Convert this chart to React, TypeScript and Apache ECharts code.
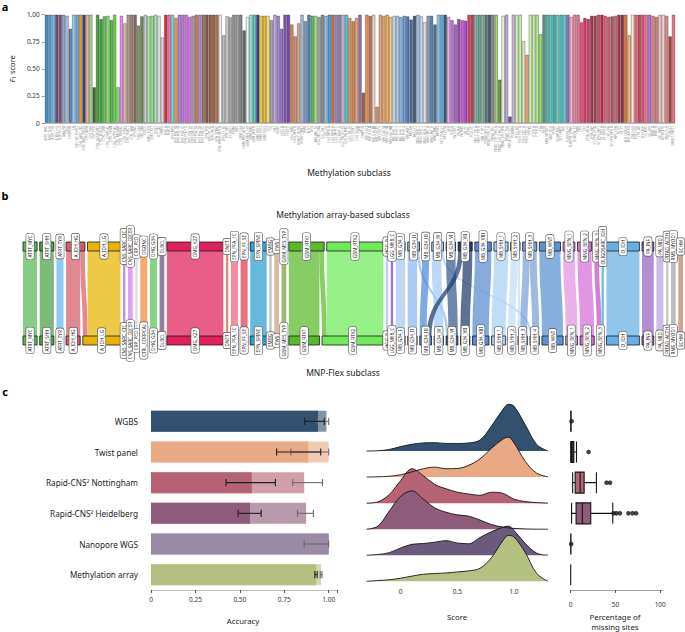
import React, { useEffect, useRef } from 'react';
import * as echarts from 'echarts';

const FONT = '"Noto Sans", "Open Sans", sans-serif';

// ---------------- Panel a ----------------
const subclassLabels = [
  'ATRT_MYC', 'ATRT_SHH', 'ATRT_TYR', 'A_IDH_HG', 'A_IDH_LG', 'ANA_PA', 'CHGL', 'CHORDM', 'CN', 'CNS_NB_FOXR2',
  'CNS_SARC_CIC', 'CNS_SARC_DICER', 'CPH_ADM', 'CPH_PAP', 'CRP_PED', 'CTRL_ADENOPIT', 'CTRL_BLOOD', 'CTRL_CBM', 'CTRL_CORPCAL', 'CTRL_HEMI',
  'CTRL_HYPTHAL', 'CTRL_INFLAM', 'CTRL_PINEAL', 'CTRL_PONS', 'CTRL_REACT', 'CTRL_WM', 'DGONC', 'DHG_G34', 'DIG_DIA', 'DLBCL',
  'DMG_EGFR', 'DMG_K27', 'DNET', 'EFT_CIC', 'EMBG', 'ENB_A', 'ENB_B', 'EPN_MPE', 'EPN_PFA_1A', 'EPN_PFA_1B',
  'EPN_PFA_1C', 'EPN_PFA_1D', 'EPN_PFA_1E', 'EPN_PFA_1F', 'EPN_PFA_2A', 'EPN_PFA_2B', 'EPN_PFA_2C', 'EPN_PFB', 'EPN_PF_SE', 'EPN_RELA',
  'EPN_SPINE', 'EPN_SPINE_MYCN', 'EPN_ST_SE', 'EPN_YAP', 'ET_BRDT', 'ETMR', 'EWS', 'GBM_G34', 'GBM_MES_ATYP', 'GBM_MES_TYP',
  'GBM_MID', 'GBM_MYCN', 'GBM_RTK1', 'GBM_RTK2', 'GBM_RTK3', 'GCT', 'GG', 'GNT', 'HGAP', 'HGG_A',
  'HGG_B', 'HGG_E', 'HGG_MID', 'HGG_MYCN', 'HGNET_BCOR', 'HGNET_MN1', 'HMB', 'ICHT', 'IHG', 'INFLAM_TU',
  'LGG_DIG_DIA', 'LGG_DNT', 'LGG_GG', 'LGG_MYB_A', 'LGG_MYB_B', 'LGG_MYB_C', 'LGG_MYB_D', 'LGG_PA_GG_ST', 'LGG_PA_MID', 'LGG_PA_PF',
  'LGG_RGNT', 'LGG_SEGA', 'LIPN', 'LYMPHO', 'MB_G34_I', 'MB_G34_II', 'MB_G34_III', 'MB_G34_IV', 'MB_G34_V', 'MB_G34_VI',
  'MB_G34_VII', 'MB_G34_VIII', 'MB_SHH_1', 'MB_SHH_2', 'MB_SHH_3', 'MB_SHH_4', 'MB_WNT', 'MELAN', 'MELCYT', 'MNG_BEN_1',
  'MNG_BEN_2', 'MNG_BEN_3', 'MNG_INT_A', 'MNG_INT_B', 'MNG_MAL', 'MPNST', 'NET_PLAGL1', 'NET_ZFTA', 'NFB', 'O_IDH',
  'PA_CORT', 'PA_INF', 'PA_MID', 'PA_PF', 'PCNSL', 'PGG_nC', 'PIN_T_PB_A', 'PIN_T_PB_B', 'PIN_T_PPT', 'PITAD_ACTH',
  'PITAD_FSH_LH', 'PITAD_PRL', 'PITAD_STH_DNS_A', 'PITAD_STH_DNS_B', 'PITAD_STH_SPA', 'PITAD_TSH', 'PITUI_SCO_GCT', 'PLASMA', 'PLEX_AD', 'PLEX_PED_A',
  'PLEX_PED_B', 'PLEX_PED_C', 'PPTID', 'PTPR_A', 'PTPR_B', 'PXA', 'RETB', 'RMS_MYOD1', 'SARC_IDH', 'SCHW',
  'SCHW_MEL', 'SFT_HMPC', 'SPC', 'SUBEPN_PF', 'SUBEPN_SPINE', 'SUBEPN_ST', 'TEMB', 'UPS', 'YST', 'ZFTA_RELA',
  'ZFTA_YAP', 'ST_EPN_ZFTA', 'ST_EPN_YAP1', 'PF_EPN_A', 'PF_EPN_B', 'SP_EPN', 'SP_EPN_MYCN', 'MPE_EPN', 'SE_PF', 'SE_ST',
  'IDH_OLIGO', 'IDH_ASTRO', 'PFA_HGG', 'PFB_HGG', 'CHL_AD', 'SHH_INF', 'G3_MYC', 'G4_GRP', 'WNT_A', 'WNT_B',
  'CIC_SARC', 'BCOR_ITD', 'MN1_FUS', 'PLAGL2', 'EWSR1_PATZ1',
];

const f1Scores = [
  1, 1, 1, 1, 1, 1, 0.99, 0.87, 1, 1,
  1, 1, 1, 1, 0.33, 1, 0.96, 0.985, 0.99, 0.95,
  1, 0.33, 0.99, 0.92, 1, 1, 1, 0.9, 0.985, 1,
  0.985, 0.99, 1, 0.99, 0.79, 1, 1, 1, 0.97, 1,
  1, 1, 0.98, 0.99, 1, 1, 1, 1, 1, 1,
  1, 1, 0.81, 0.985, 0.975, 1, 1, 1, 0.855, 0.98,
  1, 1, 1, 0.99, 0.99, 0.99, 0.95, 1, 0.99, 0.87,
  1, 1, 0.91, 0.8, 0.92, 1, 0.94, 1, 0.99, 0.99,
  0.98, 1, 0.99, 1, 1, 1, 1, 1, 1, 0.97,
  0.94, 0.97, 1, 0.28, 1, 0.99, 1, 0.15, 1, 0.99,
  1, 0.98, 0.99, 0.99, 0.98, 0.99, 0.985, 0.955, 0.99, 1,
  0.985, 0.93, 0.99, 0.99, 0.91, 1, 1, 1, 0.98, 0.95,
  0.91, 0.96, 0.95, 0.945, 1, 1, 1, 1, 1, 1,
  1, 1, 1, 0.4, 0.99, 1, 0.06, 1, 1, 1,
  0.755, 0.63, 1, 1, 1, 0.82, 1, 1, 1, 1,
  1, 1, 1, 1, 0.98, 1, 1, 0.93, 0.97, 0.96,
  0.99, 0.99, 1, 1, 0.99, 0.98, 0.985, 0.99, 1, 1,
  1, 0.81, 1, 1, 1, 1, 1, 1, 0.99, 0.98,
  1, 1, 0.99, 0.8, 1,
];

const barColors = [
  '#3b8fc4', '#4f9ed0', '#74bdea', '#6b4f7a', '#7d5384', '#8ea6c8', '#a9bedb', '#5f7fb2', '#8fcbf2', '#6aa6de',
  '#f0943a', '#354a6a', '#f3aaa2', '#9ada8c', '#3f6e3b', '#4aa043', '#36a736', '#5cc852', '#8ade72', '#52b944',
  '#62d84a', '#82e272', '#f282f2', '#d6baa8', '#b99585', '#a18272', '#8b6b5d', '#7f9a69', '#6b8b59', '#c3cada',
  '#aae892', '#92e192', '#a2e8b2', '#e2e2ea', '#d9d9d9', '#e8283c', '#f274aa', '#6ad8e0', '#f09252', '#b282d8',
  '#c272e0', '#d274e8', '#e072f0', '#aa92b8', '#c98242', '#b282e0', '#a27262', '#8b5b49', '#925c42', '#a26242',
  '#b27252', '#f0f0f0', '#b9b9b9', '#c9c9c9', '#a9a9a9', '#929292', '#a2a2a2', '#828282', '#6a6a6a', '#f1f1f1',
  '#92e0d8', '#52c8c0', '#3c428a', '#f0d042', '#e8c022', '#f8e072', '#a2a2a2', '#c2a2e8', '#a282d8', '#9272c8',
  '#8252b8', '#7249a8', '#d88252', '#d09272', '#e0a282', '#a2bae0', '#7a9ac8', '#5282b8', '#52c052', '#a2e082',
  '#a2a2a2', '#8a8a8a', '#82c2e8', '#42a2e0', '#c27252', '#a282c2', '#9282a2', '#c2b2d8', '#52c8d0', '#e09262',
  '#d88252', '#e8a272', '#9272b2', '#a26242', '#f09252', '#c8724a', '#f2d2c2', '#d09272', '#e2a282', '#f0a262',
  '#f2b252', '#f8c282', '#c2daf2', '#aacaf2', '#8ab2e2', '#6a9ad8', '#4a7ac2', '#526a92', '#425a7a', '#a2c2ea',
  '#c2daf8', '#dae2f2', '#9a9aa2', '#5282c2', '#527292', '#92c2ea', '#52b2ea', '#3a5a72', '#e2aaea', '#c272da',
  '#b262ca', '#9252a2', '#d252ea', '#b242d2', '#d24262', '#c23a52', '#72b2a2', '#62a292', '#82b29a', '#527a7a',
  '#425a6a', '#8a8a8a', '#a2d272', '#729242', '#e2f8d2', '#c2a2e2', '#7252a2', '#cab2e2', '#d2f2b2', '#c2f2a2',
  '#dae8c2', '#f2a272', '#d2f2b2', '#c2f2a2', '#b2ea92', '#92e262', '#5a9288', '#52bab2', '#4acac2', '#3ab2aa',
  '#62d2ca', '#42c2ba', '#5ad2d2', '#926ac2', '#f2b2ca', '#f282a2', '#f26a92', '#f24a7a', '#e23262', '#d24272',
  '#b23252', '#a24252', '#c2526a', '#d22242', '#e26282', '#ca6272', '#ba5262', '#ca6a7a', '#a23a4a', '#923242',
  '#e27232', '#f8b282', '#f8eaca', '#f26282', '#d24262', '#e25272', '#f27292', '#b272e2', '#ea8282', '#d28282',
  '#f2c2c2', '#f8d2d2', '#e28a8a', '#b24242', '#f27282',
];

// ---------------- Panel b ----------------
const topNodes = [
  'ATRT_MYC', 'ATRT_SHH', 'ATRT_TYR', 'A_IDH_HG', 'A_IDH_LG', 'CNS_SARC_CIC', 'CNS_SARC_DICER', 'CRP_PED', 'DGONC', 'DHG_G34',
  'DLBCL', 'DMG_K27', 'DNET', 'EPN_PFA_1C', 'EPN_PF_SE', 'EPN_SPINE', 'EMBG', 'EWS', 'GBM_MES_TYP', 'GBM_RTK1',
  'GBM_RTK2', 'HGG_B', 'LGG_MYB_C', 'MB_G34_I', 'MB_G34_II', 'MB_G34_III', 'MB_G34_IV', 'MB_G34_VI', 'MB_G34_VII', 'MB_G34_VIII',
  'MB_SHH_1', 'MB_SHH_2', 'MB_SHH_3', 'MB_WNT', 'MNG_BEN_1', 'MNG_BEN_2', 'MNG_BEN_3', 'OLIGOSARC_IDH', 'O_IDH', 'PA_INF',
  'PA_MID', 'PITAD_ACTH', 'RMS_MYOD1', 'SCHW',
];
const bottomNodes = [
  'ATRT_MYC', 'ATRT_SHH', 'ATRT_TYR', 'A_IDH_HG', 'A_IDH_LG', 'CNS_SARC_CIC', 'CNS_SARC_DICER', 'CRP_PED', 'CTRL_CORPCAL', 'DHG_G34',
  'DLBCL', 'DMG_K27', 'DNET', 'EPN_PFA_1C', 'EPN_PF_SE', 'EPN_SPINE', 'EMBG', 'EWS', 'GBM_MES_TYP', 'GBM_RTK1',
  'GBM_RTK2', 'HGG_B', 'LGG_MYB_C', 'MB_G34_I', 'MB_G34_II', 'MB_G34_III', 'MB_G34_IV', 'MB_G34_VI', 'MB_G34_VII', 'MB_G34_VIII',
  'MB_SHH_1', 'MB_SHH_2', 'MB_SHH_3', 'MB_SHH_4', 'MB_WNT', 'MNG_BEN_1', 'MNG_BEN_2', 'MNG_BEN_3', 'O_IDH', 'PA_INF',
  'PA_MID', 'PITAD_ACTH', 'RMS_MYOD1', 'SCHW',
];
const sankeyLinks: [string, string, number][] = [
  ['ATRT_MYC', 'ATRT_MYC', 6], ['ATRT_SHH', 'ATRT_SHH', 6], ['ATRT_TYR', 'ATRT_TYR', 3],
  ['A_IDH_HG', 'A_IDH_HG', 6], ['A_IDH_HG', 'A_IDH_LG', 2], ['A_IDH_LG', 'A_IDH_LG', 14],
  ['CNS_SARC_CIC', 'CNS_SARC_CIC', 1], ['CNS_SARC_DICER', 'CNS_SARC_DICER', 2], ['CRP_PED', 'CRP_PED', 1],
  ['DGONC', 'CTRL_CORPCAL', 3], ['DHG_G34', 'DHG_G34', 3], ['DLBCL', 'DLBCL', 2], ['DMG_K27', 'DMG_K27', 24],
  ['DNET', 'DNET', 1], ['EPN_PFA_1C', 'EPN_PFA_1C', 3], ['EPN_PF_SE', 'EPN_PF_SE', 3], ['EPN_SPINE', 'EPN_SPINE', 7],
  ['EMBG', 'EMBG', 1], ['EWS', 'EWS', 2], ['GBM_MES_TYP', 'GBM_MES_TYP', 2],
  ['GBM_RTK1', 'GBM_RTK1', 13], ['GBM_RTK1', 'GBM_RTK2', 2], ['GBM_RTK2', 'GBM_RTK2', 24],
  ['HGG_B', 'HGG_B', 1], ['LGG_MYB_C', 'LGG_MYB_C', 1], ['MB_G34_I', 'MB_G34_I', 4],
  ['MB_G34_II', 'MB_G34_II', 4], ['MB_G34_II', 'MB_G34_VI', 1], ['MB_G34_III', 'MB_G34_III', 3],
  ['MB_G34_IV', 'MB_G34_IV', 4], ['MB_G34_IV', 'MB_SHH_4', 1], ['MB_G34_VI', 'MB_G34_VI', 4],
  ['MB_G34_VII', 'MB_G34_III', 2], ['MB_G34_VII', 'MB_G34_VII', 4], ['MB_G34_VIII', 'MB_G34_VIII', 7],
  ['MB_SHH_1', 'MB_SHH_1', 6], ['MB_SHH_2', 'MB_SHH_2', 3], ['MB_SHH_2', 'MB_SHH_3', 1],
  ['MB_SHH_3', 'MB_SHH_3', 3], ['MB_SHH_3', 'MB_SHH_4', 3], ['MB_WNT', 'MB_WNT', 9],
  ['MNG_BEN_1', 'MNG_BEN_1', 5], ['MNG_BEN_2', 'MNG_BEN_2', 6], ['MNG_BEN_3', 'MNG_BEN_3', 2],
  ['OLIGOSARC_IDH', 'MNG_BEN_3', 1], ['O_IDH', 'O_IDH', 14], ['PA_INF', 'PA_INF', 5], ['PA_MID', 'PA_MID', 3],
  ['PITAD_ACTH', 'PITAD_ACTH', 1], ['RMS_MYOD1', 'RMS_MYOD1', 2], ['SCHW', 'SCHW', 2],
];
const nodeColors: Record<string, string> = {
  ATRT_MYC: '#5cb557', ATRT_SHH: '#4aa047', ATRT_TYR: '#5fb8ee', A_IDH_HG: '#d65a6a', A_IDH_LG: '#e8b400',
  CNS_SARC_CIC: '#a866c4', CNS_SARC_DICER: '#cf7cf0', CRP_PED: '#cfcfcf', DGONC: '#f08a3a', CTRL_CORPCAL: '#f08a3a',
  DHG_G34: '#5cc25c', DLBCL: '#6a4f72', DMG_K27: '#e0205a', DNET: '#c8682e', EPN_PFA_1C: '#f0607a',
  EPN_PF_SE: '#e03a52', EPN_SPINE: '#2a9ed0', EMBG: '#a8a8a8', EWS: '#c2a27e', GBM_MES_TYP: '#7a9a3c',
  GBM_RTK1: '#5ab82a', GBM_RTK2: '#70ea5a', HGG_B: '#9cbce6', LGG_MYB_C: '#8040c0', MB_G34_I: '#a8c8f0',
  MB_G34_II: '#8cb6ee', MB_G34_III: '#4f88de', MB_G34_IV: '#a2c8f6', MB_G34_VI: '#36598c', MB_G34_VII: '#1e3a70',
  MB_G34_VIII: '#5a8ad2', MB_SHH_1: '#a6cef6', MB_SHH_2: '#c0dcfa', MB_SHH_3: '#7c9ed8', MB_SHH_4: '#b0cef6',
  MB_WNT: '#5a92d2', MNG_BEN_1: '#e292e2', MNG_BEN_2: '#d46ed4', MNG_BEN_3: '#c24ec8', OLIGOSARC_IDH: '#2ab0c2',
  O_IDH: '#68aee2', PA_INF: '#9462c2', PA_MID: '#baa2e2', PITAD_ACTH: '#b2b4a2', RMS_MYOD1: '#a2a2a2', SCHW: '#c08060',
};

// ---------------- Panel c ----------------
const platforms = ['WGBS', 'Twist panel', 'Rapid-CNS² Nottingham', 'Rapid-CNS² Heidelberg', 'Nanopore WGS', 'Methylation array'];
const accSubclass = [0.94, 0.885, 0.567, 0.557, 1.0, 0.929];
const accFamily = [0.987, 1.0, 0.862, 0.873, 1.0, 0.957];
const errSubLow = [0.865, 0.707, 0.422, 0.49, null, 0.922];
const errSubHigh = [0.975, 0.955, 0.7, 0.62, null, 0.935];
const errFamLow = [0.935, 0.787, 0.798, 0.824, 0.862, 0.952];
const errFamHigh = [1.0, 1.0, 0.965, 0.914, 1.0, 0.962];
const platformColors = ['#34506f', '#e9a985', '#b56374', '#8e5c7a', '#9a8aa4', '#b3c07f'];
const ridgeColors = ['#34506f', '#eaa985', '#b56374', '#8e5c7a', '#6b5a7c', '#b3c07f'];

const ridgeX = [-0.3, -0.2, -0.1, 0, 0.1, 0.2, 0.3, 0.4, 0.5, 0.6, 0.7, 0.8, 0.9, 0.95, 1.0, 1.1, 1.2, 1.3];
const ridgeDensity = [
  [0, 0.01, 0.06, 0.17, 0.26, 0.31, 0.32, 0.29, 0.29, 0.31, 0.42, 0.95, 1.58, 1.79, 1.72, 1.0, 0.25, 0],
  [0, 0.01, 0.03, 0.09, 0.2, 0.32, 0.38, 0.32, 0.33, 0.45, 0.7, 1.1, 1.45, 1.53, 1.31, 0.6, 0.15, 0.01],
  [0, 0.05, 0.33, 0.87, 1.32, 1.05, 0.72, 0.55, 0.42, 0.35, 0.3, 0.42, 0.38, 0.27, 0.15, 0.06, 0.02, 0],
  [0, 0.12, 0.7, 1.26, 1.47, 1.15, 0.82, 0.65, 0.55, 0.5, 0.35, 0.18, 0.08, 0.05, 0.03, 0.01, 0, 0],
  [0, 0.03, 0.1, 0.28, 0.42, 0.45, 0.5, 0.56, 0.47, 0.44, 0.68, 0.9, 1.07, 1.12, 0.95, 0.45, 0.08, 0],
  [0, 0.03, 0.06, 0.12, 0.2, 0.27, 0.3, 0.32, 0.36, 0.4, 0.5, 0.9, 1.55, 1.76, 1.7, 1.1, 0.3, 0],
];

const missingBox = [
  [0, 0, 0, 0, 0.5],
  [0, 0.5, 1, 3.5, 6.5],
  [2.2, 5, 10.5, 15, 28.7],
  [1, 6, 13, 22.4, 47],
  [0, 0, 0, 0, 0.3],
  [0, 0, 0, 0, 0],
];
const missingOutliers = [
  [1, 0], [20, 1], [40, 2], [44, 2], [48, 3], [51, 3], [55, 3], [64.5, 3], [69, 3], [73, 3], [0.5, 4],
];
const boxFills = ['#34506f', '#3b2a22', '#b56374', '#8e5c7a', '#6b5a7c', '#b3c07f'];

function txt(text: string, x: number, y: number, size: number, opts: any = {}) {
  return {
    type: 'text',
    x, y,
    silent: true,
    style: {
      text, x: 0, y: 0,
      fill: opts.fill || '#222',
      font: `${opts.weight || 'normal'} ${size}px ${FONT}`,
      textAlign: opts.align || 'center', align: opts.align || 'center',
      textVerticalAlign: 'middle', verticalAlign: 'middle',
    },
  };
}

function buildOption() {
  const series: any[] = [];

  // a
  series.push({
    type: 'bar', xAxisIndex: 0, yAxisIndex: 0,
    barCategoryGap: '3%',
    data: f1Scores.map((v, i) => ({ value: v, itemStyle: { color: barColors[i] } })),
    itemStyle: { borderColor: 'rgba(30,30,30,0.55)', borderWidth: 0.6 },
    silent: true,
  });

  // b
  series.push({
    type: 'sankey',
    orient: 'vertical',
    left: 23, right: 2, top: 242, bottom: 632 - 345,
    nodeWidth: 9, nodeGap: 2.6,
    layoutIterations: 0,
    draggable: false,
    emphasis: { disabled: true },
    silent: true,
    data: [
      ...topNodes.map((n) => ({ name: 't_' + n, itemStyle: { color: nodeColors[n] } })),
      ...bottomNodes.map((n) => ({ name: 'b_' + n, itemStyle: { color: nodeColors[n] } })),
    ],
    links: sankeyLinks.map(([s, t, v]) => ({ source: 't_' + s, target: 'b_' + t, value: v })),
    itemStyle: { borderColor: '#1a1a1a', borderWidth: 0.8 },
    lineStyle: { color: 'source', opacity: 0.72, curveness: 0.5 },
    label: {
      show: true, position: 'inside', rotate: 90,
      formatter: (p: any) => p.name.slice(2),
      fontSize: 4.6, color: '#222', fontFamily: FONT,
      backgroundColor: '#fff', borderColor: '#555', borderWidth: 0.6, borderRadius: 1.8,
      padding: [1.6, 1.8, 1.0, 1.8],
    },
  });

  // c1 bars
  series.push({
    type: 'bar', xAxisIndex: 1, yAxisIndex: 1, barWidth: 21, barGap: '-100%',
    data: accFamily.map((v, i) => ({ value: v, itemStyle: { color: platformColors[i], opacity: 0.62 } })),
    silent: true,
  });
  series.push({
    type: 'bar', xAxisIndex: 1, yAxisIndex: 1, barWidth: 21, barGap: '-100%',
    data: accSubclass.map((v, i) => ({ value: v, itemStyle: { color: platformColors[i] } })),
    silent: true,
  });
  const errData: any[] = [];
  platforms.forEach((_, i) => errData.push([errFamLow[i], errFamHigh[i], i, 0]));
  platforms.forEach((_, i) => {
    if (errSubLow[i] != null) errData.push([errSubLow[i], errSubHigh[i], i, 1]);
  });
  series.push({
    type: 'custom', xAxisIndex: 1, yAxisIndex: 1, silent: true,
    dimensions: ['lo', 'hi', 'cat', 'kind'],
    encode: { x: [0, 1], y: 2 },
    data: errData,
    z: 5,
    renderItem: (params: any, api: any) => {
      const lo = api.value(0), hi = api.value(1), cat = api.value(2), kind = api.value(3);
      const p1 = api.coord([lo, cat]);
      const p2 = api.coord([hi, cat]);
      const c = kind === 1 ? '#1e1e1e' : '#6a6a6a';
      const h = 3.6;
      const st = { stroke: c, lineWidth: 1.1 };
      return {
        type: 'group',
        children: [
          { type: 'line', shape: { x1: p1[0], y1: p1[1], x2: p2[0], y2: p2[1] }, style: st },
          { type: 'line', shape: { x1: p1[0], y1: p1[1] - h, x2: p1[0], y2: p1[1] + h }, style: st },
          { type: 'line', shape: { x1: p2[0], y1: p2[1] - h, x2: p2[0], y2: p2[1] + h }, style: st },
        ],
      };
    },
  });

  // c2 ridges: each ridge sits on its own baseline (row offset) and is filled down to it
  platforms.forEach((_, i) => {
    const offset = 5 - i;
    series.push({
      type: 'line', xAxisIndex: 2, yAxisIndex: 2, silent: true,
      data: ridgeX.map((x, k) => [x, offset + ridgeDensity[i][k]]),
      symbol: 'none', smooth: 0.35,
      lineStyle: { color: '#151515', width: 0.9 },
      areaStyle: { color: ridgeColors[i], opacity: 1, origin: offset },
    });
  });

  // c3 boxplot
  series.push({
    type: 'boxplot', xAxisIndex: 3, yAxisIndex: 3, silent: true,
    boxWidth: [21, 21],
    data: missingBox.map((d, i) => ({
      value: d,
      itemStyle: { color: boxFills[i], borderColor: '#151515', borderWidth: 1.1 },
    })),
  });
  series.push({
    type: 'scatter', xAxisIndex: 3, yAxisIndex: 3, silent: true,
    symbolSize: 4.6,
    itemStyle: { color: '#151515' },
    data: missingOutliers,
    z: 5,
  });

  const axisTxt = { fontFamily: FONT, color: '#333' };

  return {
    animation: false,
    textStyle: { fontFamily: FONT, color: '#222' },
    grid: [
      { left: 36.7, top: 14.7, width: 638.5, height: 108.3 },
      { left: 151, top: 406, width: 186.6, height: 184 },
      { left: 366.7, top: 398.9, width: 181.3, height: 183.7 },
      { left: 570.7, top: 406, width: 92.2, height: 184 },
    ],
    xAxis: [
      {
        type: 'category', gridIndex: 0, data: subclassLabels,
        axisLine: { lineStyle: { color: '#9a9a9a', width: 0.6 } },
        axisTick: { interval: 0, length: 2.5, lineStyle: { color: '#8a8a8a', width: 0.5 } },
        axisLabel: { interval: 0, rotate: 90, fontSize: 3, color: '#8a8a8a', margin: 3, fontFamily: FONT },
      },
      {
        type: 'value', gridIndex: 1, min: 0, max: 1.05, interval: 0.25,
        splitLine: { show: false },
        axisLine: { show: true, lineStyle: { color: '#bdbdbd', width: 1 } },
        axisTick: { show: true, length: 3, lineStyle: { color: '#555' } },
        axisLabel: {
          ...axisTxt, fontSize: 6.5, margin: 6,
          formatter: (v: number) => (v === 0 ? '0' : Math.abs(v * 4 - Math.round(v * 4)) < 1e-6 ? v.toFixed(2) : ''),
        },
      },
      {
        type: 'value', gridIndex: 2, min: -0.3, max: 1.3,
        splitLine: { show: false },
        axisLine: { show: false },
        axisTick: { show: false },
        axisLabel: { ...axisTxt, fontSize: 6.5, margin: 5, customValues: [0, 0.5, 1.0], formatter: (v: number) => (v === 0 ? '0' : v.toFixed(1)) },
      },
      {
        type: 'value', gridIndex: 3, min: 0, max: 103,
        splitLine: { show: false },
        axisLine: { show: true, lineStyle: { color: '#8c8c8c', width: 0.8 } },
        axisTick: { show: true, length: 3, customValues: [0, 50, 100], lineStyle: { color: '#555' } },
        axisLabel: { ...axisTxt, fontSize: 6.5, margin: 11, customValues: [0, 50, 100] },
      },
    ],
    yAxis: [
      {
        type: 'value', gridIndex: 0, min: 0, max: 1, interval: 0.25,
        splitLine: { show: false },
        axisLine: { show: false },
        axisTick: { show: true, length: 3, lineStyle: { color: '#555', width: 0.6 } },
        axisLabel: { ...axisTxt, fontSize: 6.5, margin: 5, formatter: (v: number) => (v === 0 ? '0' : v.toFixed(2)) },
        name: '{it|F}{sub|1} score',
        nameLocation: 'middle', nameRotate: 90, nameGap: 23,
        nameTextStyle: {
          fontSize: 7.5, color: '#222', fontFamily: FONT,
          rich: {
            it: { fontStyle: 'italic', fontSize: 7.5, fontFamily: FONT, color: '#222' },
            sub: { fontSize: 5, fontFamily: FONT, color: '#222', verticalAlign: 'bottom', padding: [3, 0, 0, 0] },
          },
        },
      },
      {
        type: 'category', gridIndex: 1, inverse: true, data: platforms,
        axisLine: { show: false }, axisTick: { show: false },
        axisLabel: { fontFamily: FONT, color: '#222', fontSize: 8.2, margin: 13 },
      },
      { type: 'value', gridIndex: 2, min: -0.05, max: 7, show: false },
      {
        type: 'category', gridIndex: 3, inverse: true, data: platforms,
        axisLine: { show: false }, axisTick: { show: false }, axisLabel: { show: false },
      },
    ],
    graphic: [
      txt('a', 5, 6, 11, { weight: 'bold', fill: '#000' }),
      txt('b', 5, 195, 11, { weight: 'bold', fill: '#000' }),
      txt('c', 5, 391, 11, { weight: 'bold', fill: '#000' }),
      txt('Methylation subclass', 349, 172, 8.5),
      txt('Methylation array-based subclass', 343, 214, 8.5),
      txt('MNP-Flex subclass', 343, 372, 8.5),
      txt('Accuracy', 243, 621, 7.8),
      txt('Score', 457, 617, 7.8),
      txt('Percentage of', 615, 617, 7.8),
      txt('missing sites', 615, 627, 7.8),
    ],
    series,
  };
}

export default function App() {
  const ref = useRef<HTMLDivElement>(null);
  useEffect(() => {
    const chart = echarts.init(ref.current!, null, { renderer: 'svg' });
    chart.setOption(buildOption() as any);
    return () => chart.dispose();
  }, []);
  return (
    <div
      ref={ref}
      style={{ position: 'fixed', left: 0, top: 0, width: 685, height: 632, background: '#fff' }}
    />
  );
}
